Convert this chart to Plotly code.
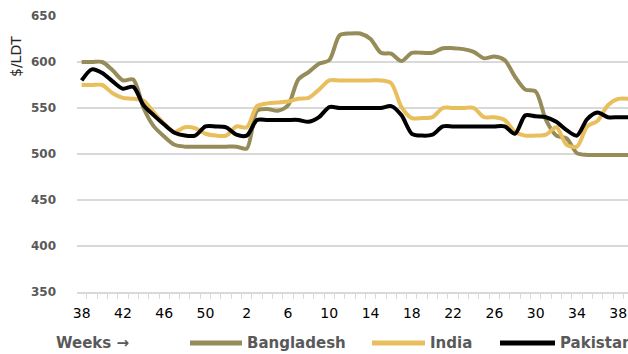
import plotly.graph_objects as go

# Week numbers: week 38 of one year through week 39 of the next
weeks = list(range(38, 53)) + list(range(1, 40))

# Weekly ship-recycling prices, $/LDT
bangladesh = [600, 600, 600, 591, 580, 581, 550, 530, 519, 510,
              508, 508, 508, 508, 508, 508, 506, 547, 549, 547,
              553, 581, 589, 598, 602, 629, 631, 631, 625, 610,
              609, 601, 610, 610, 610, 615, 615, 614, 611, 604,
              606, 602, 584, 570, 568, 537, 520, 517, 501, 499,
              499, 499, 499, 499]
india = [575, 575, 575, 566, 561, 560, 558, 545, 533, 524,
         529, 528, 522, 520, 520, 530, 529, 552, 555, 556,
         557, 560, 561, 570, 580, 580, 580, 580, 580, 580,
         577, 551, 539, 539, 540, 550, 550, 550, 550, 540,
         540, 537, 524, 520, 520, 521, 529, 510, 508, 530,
         536, 553, 560, 560]
pakistan = [580, 592, 588, 579, 571, 573, 553, 542, 532, 523,
            520, 520, 530, 530, 529, 521, 520, 537, 537, 537,
            537, 537, 535, 540, 551, 550, 550, 550, 550, 550,
            552, 542, 522, 520, 521, 530, 530, 530, 530, 530,
            530, 530, 522, 542, 541, 540, 535, 526, 520, 538,
            545, 540, 540, 540]

series = [("Bangladesh", bangladesh, "#968C5A"),
          ("India", india, "#E9BE5C"),
          ("Pakistan", pakistan, "#000000")]

x = list(range(len(weeks)))
tick_idx = list(range(0, 53, 4))
tick_text = [str(weeks[i]) for i in tick_idx]

fig = go.Figure()
for name, vals, color in series:
    fig.add_trace(go.Scatter(
        x=x, y=vals, name=name, mode="lines",
        line=dict(color=color, width=4, shape="spline", smoothing=0.8),
        showlegend=False, hoverinfo="skip"))

W, H = 628, 354
L, R, T, B = 77, 0, 16, 62
pw, ph = W - L - R, H - T - B


def px(xp):
    return (xp - L) / pw


def py(yp):
    return (H - B - yp) / ph


grey = "#595959"
fig.update_layout(
    width=W, height=H,
    margin=dict(l=L, r=R, t=T, b=B),
    paper_bgcolor="white", plot_bgcolor="white",
    xaxis=dict(
        range=[-0.45, 52.95], tickmode="array", tickvals=tick_idx,
        ticktext=tick_text, ticks="", showgrid=False, zeroline=False,
        showline=True, linecolor="#D9D9D9", linewidth=1.5,
        ticklabelstandoff=7,
        tickfont=dict(family="DejaVu Sans", size=14, color="#000000"),
        minor=dict(tick0=-0.5, dtick=1, ticks="outside", ticklen=5,
                   tickcolor="#D9D9D9", tickwidth=1, showgrid=False),
    ),
    yaxis=dict(
        range=[350, 650], tickvals=[350, 400, 450, 500, 550, 600, 650],
        showgrid=True, gridcolor="#D9D9D9", gridwidth=1.5, zeroline=False,
        ticks="", ticklabelstandoff=20,
        tickfont=dict(family="DejaVu Sans", size=12, color=grey,
                      weight="bold"),
    ),
)

# axis title and custom legend row
fig.add_annotation(text="$/LDT", x=px(16), y=py(57), xref="paper",
                   yref="paper", xanchor="center", yanchor="middle",
                   textangle=-90, showarrow=False,
                   font=dict(family="DejaVu Sans", size=14, color="#262626"))
fig.add_annotation(text="Weeks →", x=px(54), y=py(343), xref="paper",
                   yref="paper", xanchor="left", yanchor="middle",
                   showarrow=False,
                   font=dict(family="DejaVu Sans", size=15, color=grey,
                             weight="bold"))

legend_pos = [(190, 242), (372, 425), (500, 555)]
for (name, _, color), (x0, x1) in zip(series, legend_pos):
    fig.add_shape(type="line", xref="paper", yref="paper",
                  x0=px(x0), x1=px(x1), y0=py(343), y1=py(343),
                  line=dict(color=color, width=5))
    fig.add_annotation(text=name, x=px(x1 + 3), y=py(343), xref="paper",
                       yref="paper", xanchor="left", yanchor="middle",
                       showarrow=False,
                       font=dict(family="DejaVu Sans", size=15, color=grey,
                                 weight="bold"))

fig.write_html("out.html")
